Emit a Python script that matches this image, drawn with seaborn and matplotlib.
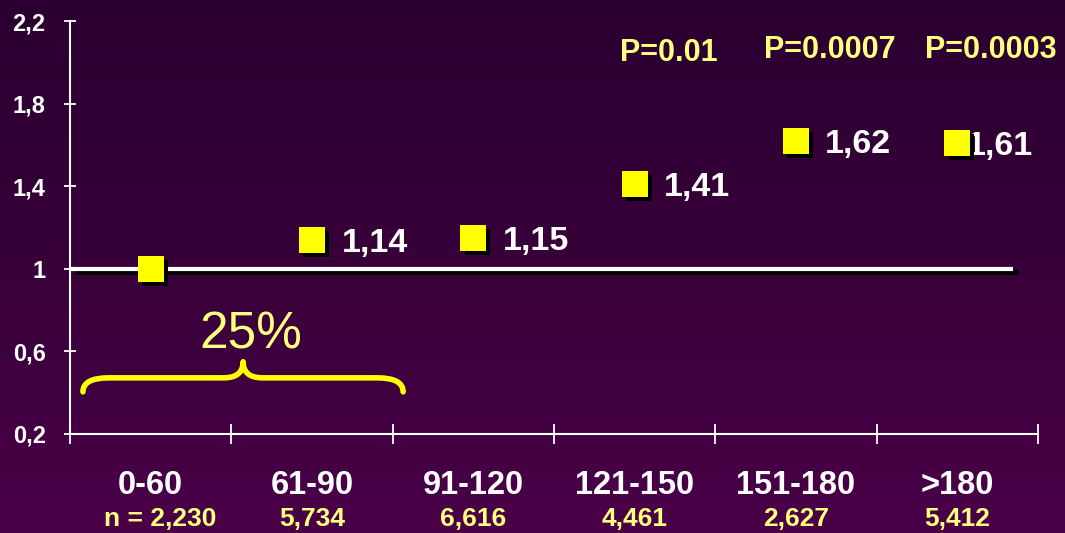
import numpy as np
import pandas as pd
import seaborn as sns
import matplotlib.pyplot as plt
from matplotlib import patheffects as pe
from matplotlib.path import Path
from matplotlib.patches import PathPatch
from matplotlib.colors import LinearSegmentedColormap

# Odds ratio by time-interval group
categories = ["0-60", "61-90", "91-120", "121-150", "151-180", ">180"]
n_labels = ["n = 2,230", "5,734", "6,616", "4,461", "2,627", "5,412"]
odds_ratio = [1.00, 1.14, 1.15, 1.41, 1.62, 1.61]
value_labels = ["", "1,14", "1,15", "1,41", "1,62", "1,61"]
p_values = ["", "", "", "P=0.01", "P=0.0007", "P=0.0003"]
y_ticks = [0.2, 0.6, 1.0, 1.4, 1.8, 2.2]
y_tick_labels = ["0,2", "0,6", "1", "1,4", "1,8", "2,2"]
reference_level = 1.0
share_text = "25%"

sns.set_style("ticks")
plt.rcParams["font.family"] = ["Liberation Sans", "DejaVu Sans"]

WHITE = "#ffffff"
YELLOW = "#ffff00"
PALE_YELLOW = "#ffff80"

df = pd.DataFrame({"group": categories, "pos": np.arange(len(categories)),
                   "odds_ratio": odds_ratio})

fig = plt.figure(figsize=(10.65, 5.33), dpi=100)

# vertical purple gradient backdrop
bg = fig.add_axes([0, 0, 1, 1], zorder=-10)
cmap = LinearSegmentedColormap.from_list("bg", ["#2a0030", "#38003a", "#4a0048"])
bg.imshow(np.linspace(0, 1, 256).reshape(-1, 1), aspect="auto", cmap=cmap,
          extent=[0, 1, 0, 1], origin="upper")
bg.set_axis_off()

ax = fig.add_axes([70 / 1065, 1 - 434 / 533, (1038 - 70) / 1065, (434 - 21) / 533])
ax.set_facecolor("none")
ax.set_xlim(-0.5, len(categories) - 0.5)
ax.set_ylim(y_ticks[0], y_ticks[-1])

# reference line at OR = 1 with drop shadow
ax.plot([-0.5, len(categories) - 0.654], [reference_level, reference_level],
        color=WHITE, lw=3, solid_capstyle="butt", zorder=3,
        path_effects=[pe.SimpleLineShadow(offset=(3.5, -2.4), shadow_color="black", alpha=1,
                                          linewidth=3.5),
                      pe.Normal()])

# labels next to points (drawn under the markers), digits centred on the value
label_size = 24.5
cap_shift = -0.716 * label_size / 2
offsets = [0.0, 0.185, 0.185, 0.18, 0.18, 0.06]
for i, (v, lab) in enumerate(zip(odds_ratio, value_labels)):
    if lab:
        ax.annotate(lab, xy=(i + offsets[i], v), xytext=(0, cap_shift),
                    textcoords="offset points", color=WHITE, fontsize=label_size,
                    fontweight="bold", ha="left", va="baseline", zorder=4)

sns.scatterplot(data=df, x="pos", y="odds_ratio", marker="s", s=345,
                color=YELLOW, edgecolor="none", linewidth=0, ax=ax, zorder=6,
                legend=False)
for coll in ax.collections:
    coll.set_path_effects([pe.SimplePatchShadow(offset=(3, -3), shadow_rgbFace="black", alpha=1),
                           pe.Normal()])

# p-values above the later groups
for i, p in enumerate(p_values):
    if p:
        y = 2.007 if p == "P=0.01" else 2.022
        ax.text(i + 0.21, y, p, color=PALE_YELLOW, fontsize=22, fontweight="bold",
                ha="center", va="baseline")

# brace spanning the first two groups
x0, x1, xm = -0.42, 1.565, 0.573
y_end, y_bar, y_tip = 0.404, 0.472, 0.55
r = 0.16
rt = 0.12
verts = [(x0, y_end), (x0, y_bar), (x0 + r, y_bar),
         (xm - rt, y_bar),
         (xm, y_bar), (xm, y_tip),
         (xm, y_bar), (xm + rt, y_bar),
         (x1 - r, y_bar),
         (x1, y_bar), (x1, y_end)]
codes = [Path.MOVETO, Path.CURVE3, Path.CURVE3,
         Path.LINETO,
         Path.CURVE3, Path.CURVE3,
         Path.CURVE3, Path.CURVE3,
         Path.LINETO,
         Path.CURVE3, Path.CURVE3]
ax.add_patch(PathPatch(Path(verts, codes), facecolor="none", edgecolor=YELLOW,
                       lw=4, capstyle="round", joinstyle="round", zorder=3))
ax.text(0.622, 0.68, share_text, color=PALE_YELLOW, fontsize=37,
        ha="center", va="center")

# axes styling
for side in ["top", "right"]:
    ax.spines[side].set_visible(False)
for side in ["left", "bottom"]:
    ax.spines[side].set_color(WHITE)
    ax.spines[side].set_linewidth(1.5)

ax.set_yticks(y_ticks)
ax.set_yticklabels(y_tick_labels)
ax.tick_params(axis="y", direction="inout", length=9, width=1.3, color=WHITE,
               labelcolor=WHITE, labelsize=17, pad=13)
for t in ax.get_yticklabels():
    t.set_fontweight("bold")

ax.set_xticks(np.arange(len(categories) + 1) - 0.5)
ax.set_xticklabels([])
ax.tick_params(axis="x", which="major", direction="inout", length=14, width=1.3,
               color=WHITE)
ax.set_xticks(np.arange(len(categories)), minor=True)
ax.set_xticklabels(categories, minor=True)
ax.tick_params(axis="x", which="minor", length=0, pad=26, labelcolor=WHITE,
               labelsize=23.5)
for t in ax.get_xticklabels(minor=True):
    t.set_fontweight("bold")

n_shift = [0.06, 0, 0, 0, 0, 0]
for i, n in enumerate(n_labels):
    ax.text(i + n_shift[i], -0.206, n, transform=ax.get_xaxis_transform(),
            color=PALE_YELLOW, fontsize=19, fontweight="bold", ha="center", va="center")

ax.set_xlabel("")
ax.set_ylabel("")

fig.savefig("out.png", dpi=100)
